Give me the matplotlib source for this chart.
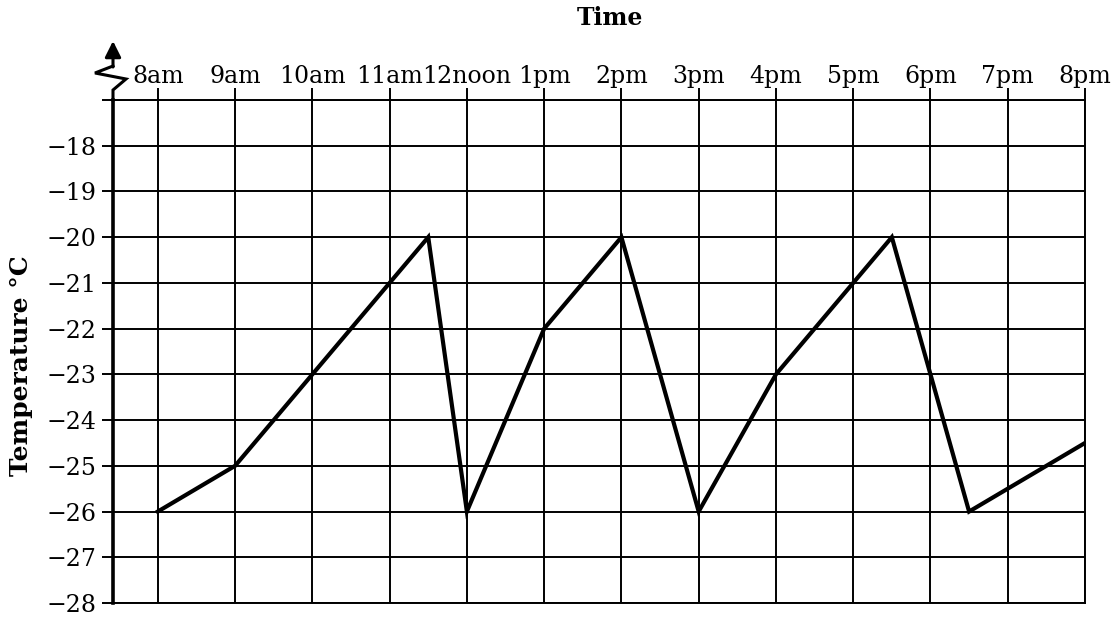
import matplotlib
matplotlib.use('Agg')
import matplotlib.pyplot as plt
import matplotlib.transforms as mtransforms

# temperature readings (hours on a 24h clock, degrees C)
hours = [8, 9, 11.5, 12, 13, 14, 15, 16, 17.5, 18.5, 20]
temps = [-26, -25, -20, -26, -22, -20, -26, -23, -20, -26, -24.5]

tick_hours = list(range(8, 21))
tick_names = ['8am', '9am', '10am', '11am', '12noon', '1pm', '2pm', '3pm',
              '4pm', '5pm', '6pm', '7pm', '8pm']
temp_ticks = list(range(-28, -16))
temp_names = ['\u2212%d' % abs(t) for t in temp_ticks[:-1]] + ['']

plt.rcParams['font.family'] = 'DejaVu Serif'

fig = plt.figure(figsize=(11.12, 6.18), dpi=100)
ax = fig.add_axes([113 / 1112, 1 - 603 / 618, (1085 - 113) / 1112, 503 / 618])

ax.plot(hours, temps, color='black', linewidth=3.0, solid_joinstyle='miter', zorder=3)

ax.set_xlim(7.42, 20)
ax.set_ylim(-28, -17)

ax.set_xticks(tick_hours)
ax.set_xticklabels(tick_names, fontsize=17)
ax.set_yticks(temp_ticks)
ax.set_yticklabels(temp_names, fontsize=17)

ax.xaxis.tick_top()
ax.tick_params(axis='x', direction='out', length=8.6, width=1.4, pad=0)
ax.tick_params(axis='y', direction='out', length=8, width=1.4, pad=4)

ax.grid(True, color='black', linewidth=1.4)
ax.set_axisbelow(True)

for side in ['top', 'right', 'bottom']:
    ax.spines[side].set_linewidth(1.4)
ax.spines['left'].set_linewidth(2.6)

# broken axis zigzag and arrow above the y axis (offsets in points from top-left corner)
tr = mtransforms.Affine2D().scale(fig.dpi / 72) + mtransforms.ScaledTranslation(0, 1, ax.transAxes)
zx = [0, 0, 13, -18, 0]
zy = [0, 10, 21, 27, 34]
ax.plot([v * 0.72 for v in zx], [v * 0.72 for v in zy], color='black', linewidth=2.2,
        transform=tr, clip_on=False, solid_joinstyle='miter')
ax.annotate('', xy=(0, 59 * 0.72), xytext=(0, 33 * 0.72), xycoords=tr, textcoords=tr,
            arrowprops=dict(arrowstyle='-|>', color='black', lw=2.2, mutation_scale=24,
                            shrinkA=0, shrinkB=0))

fig.text(610 / 1112, 1 - 18 / 618, 'Time', fontsize=17, fontweight='bold',
         ha='center', va='center')
fig.text(21 / 1112, 1 - 366 / 618, 'Temperature \u00b0C', fontsize=18, fontweight='bold',
         ha='center', va='center', rotation=90)

fig.savefig('out.png', dpi=100)
